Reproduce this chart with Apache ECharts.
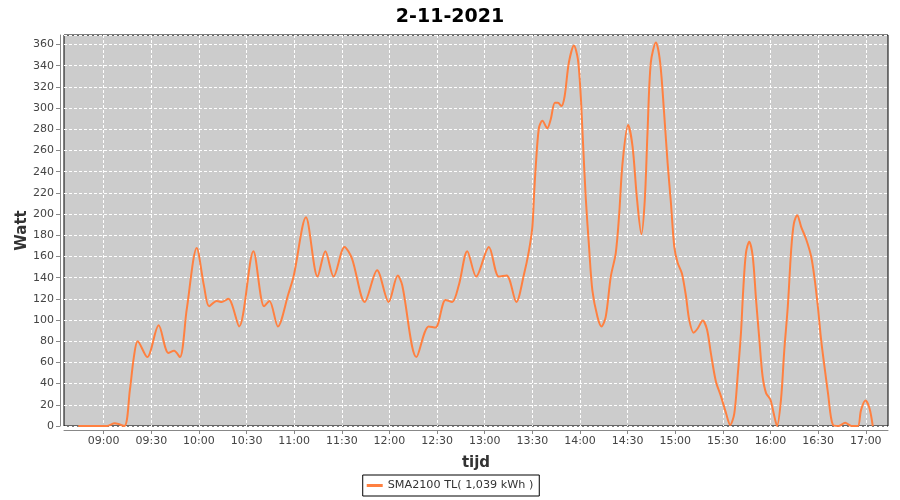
<!DOCTYPE html>
<html>
<head>
<meta charset="utf-8">
<script src="https://cdn.jsdelivr.net/npm/echarts@6/dist/echarts.min.js"></script>
<style>
html,body{margin:0;padding:0;background:#fff;}
#chart{width:900px;height:500px;}
</style>
</head>
<body>
<div id="chart"></div>
<script>
// Time of each reading, in minutes after midnight
const minutes = [
  524, 532, 542, 547, 553, 556.5, 559, 561.4, 567.4, 574.6, 580.7, 584.3, 588, 592.3, 598.6,
  603.2, 606.4, 611.2, 614.4, 618.5, 625.3, 634.3, 641, 644.4, 649.7, 656.4, 659.6, 667.4,
  674.7, 679.6, 684.8, 691.7, 696.4, 704.4, 712.2, 719.5, 725.2, 728, 737, 744.7, 749,
  755.3, 759.5, 763.7, 769, 774.6, 782.6, 788.9, 793.8, 799.9, 804.7, 807.8, 810, 811, 812,
  814.1, 816.3, 819.4, 821.5, 824.2, 826.1, 828.3, 830.3, 833, 836.2, 838.7, 840.5, 841.5,
  843.6, 845.7, 847.8, 851, 853.5, 856.2, 859.4, 862.5, 864.6, 866.8, 870.3, 873.1, 875.8,
  878.7, 880.8, 882.5, 884.6, 887.8, 890.5, 893, 895.2, 897.3, 899.4, 901.5, 904.2, 906.8,
  908.8, 911.6, 914.1, 917.3, 920, 922.5, 925.6, 928.8, 932, 934.6, 937.2, 939.3, 941.4,
  942.8, 944.5, 946.6, 948.8, 950.9, 953, 955, 957.2, 959.9, 962, 964.1, 966.6, 968.7,
  970.9, 973, 974.7, 976.8, 979.3, 982.5, 985.6, 987.6, 989.8, 991.9, 994, 996.2, 999.3,
  1003, 1007, 1011, 1015, 1017, 1019.8, 1022.3, 1024.4
];
// Power in Watt at each reading
const watt = [
  0, 0, 0, 2.5, 0, 34, 65, 80, 65, 95, 69, 71, 65, 110, 168,
  132, 113, 118, 117, 120, 94, 165, 113, 118, 94, 125, 141, 197,
  141, 165, 141, 169, 158, 117, 147, 117, 142, 133, 65, 94, 93,
  119, 117, 133, 165, 141, 169, 141, 142, 117, 143, 165, 188, 216, 242,
  281, 288, 281, 289, 305, 305, 302, 311, 343, 359, 346, 311, 280,
  216, 169, 128, 103, 94, 103, 141, 163, 198, 248, 284, 264, 216,
  181, 213, 276, 343, 362, 343, 295, 248, 210, 169, 154, 144, 122,
  100, 88, 92, 99.5, 91, 68, 42, 28, 12, 1, 12, 47, 88,
  128, 163, 174, 160, 119, 81, 47, 31, 25, 12, 0, 25, 72,
  113, 166, 191, 199, 188, 176, 160, 141, 113, 81, 56, 31, 1,
  0, 3, 0, 0, 15, 24, 17, 0
];
const titleText = '2-11-2021';
const seriesName = 'SMA2100 TL( 1,039 kWh )';
const yName = 'Watt';
const xName = 'tijd';
// Visible time range of the plot (minutes after midnight) and tick step
const xStart = 8 * 60 + 35;
const xEnd = 17 * 60 + 14;
const tickStep = 30;

const pad = n => (n < 10 ? '0' : '') + n;
// one label slot per minute across the plot; only whole/half hours are shown
const minuteLabels = [];
for (let m = xStart; m <= xEnd; m++) minuteLabels.push(pad(Math.floor(m / 60)) + ':' + pad(m % 60));
const isTick = idx => ((xStart + idx) % tickStep) === 0;

const points = minutes.map((m, i) => [m, watt[i]]);

const chart = echarts.init(document.getElementById('chart'), null, {renderer: 'canvas'});
const FONT = 'DejaVu Sans';
chart.setOption({
  animation: false,
  backgroundColor: '#ffffff',
  title: {
    text: titleText,
    left: 'center',
    top: 3,
    textStyle: {fontFamily: FONT, fontSize: 19, fontWeight: 'bold', color: '#000'}
  },
  legend: {
    data: [seriesName],
    left: 'center',
    top: 475,
    padding: [5, 6, 5, 4],
    borderColor: '#000',
    borderWidth: 1,
    icon: 'rect',
    itemWidth: 16,
    itemHeight: 3,
    itemGap: 4,
    textStyle: {fontFamily: FONT, fontSize: 11.2, color: '#333'}
  },
  grid: {
    left: 64, right: 12, top: 35, bottom: 74,
    show: true,
    backgroundColor: '#cccccc',
    borderColor: '#000',
    borderWidth: 1
  },
  xAxis: [{
    type: 'value',
    min: xStart,
    max: xEnd,
    show: false
  }, {
    type: 'category',
    data: minuteLabels,
    boundaryGap: false,
    position: 'bottom',
    offset: 4,
    name: xName,
    nameLocation: 'middle',
    nameGap: 26,
    nameMoveOverlap: false,
    nameTextStyle: {fontFamily: FONT, fontSize: 15, fontWeight: 'bold', color: '#333'},
    axisLine: {show: true, lineStyle: {color: '#888', width: 1}},
    axisTick: {show: true, length: 4, interval: isTick, lineStyle: {color: '#888'}},
    axisLabel: {
      interval: isTick,
      fontFamily: FONT, fontSize: 11, color: '#444', margin: 6
    },
    splitLine: {show: true, interval: isTick, lineStyle: {color: '#ffffff', type: [3, 2], width: 1}}
  }],
  yAxis: {
    type: 'value',
    min: 0,
    max: 369,
    interval: 20,
    offset: 4,
    name: yName,
    nameLocation: 'middle',
    nameGap: 30,
    nameMoveOverlap: false,
    nameRotate: 90,
    nameTextStyle: {fontFamily: FONT, fontSize: 15, fontWeight: 'bold', color: '#333'},
    axisLine: {show: true, lineStyle: {color: '#888', width: 1}},
    axisTick: {show: true, length: 4, lineStyle: {color: '#888'}},
    axisLabel: {fontFamily: FONT, fontSize: 11, color: '#444', showMaxLabel: false, margin: 6},
    splitLine: {show: true, lineStyle: {color: '#ffffff', type: [3, 2], width: 1}}
  },
  series: [{
    name: seriesName,
    type: 'line',
    xAxisIndex: 0,
    data: points,
    smooth: 0.3,
    showSymbol: false,
    symbol: 'none',
    clip: true,
    lineStyle: {color: '#ff8040', width: 2},
    itemStyle: {color: '#ff8040'}
  }]
});
</script>
</body>
</html>
